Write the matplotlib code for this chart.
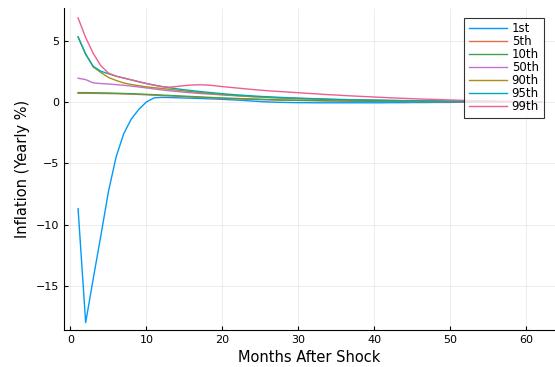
import numpy as np
import matplotlib
matplotlib.use("Agg")
import matplotlib.pyplot as plt

# months after the shock
months = np.arange(1, 63)

# impulse responses by shock percentile (yearly % inflation)
p01 = [-8.7, -18.0, -14.4, -10.9, -7.3, -4.5, -2.6, -1.4, -0.6, 0.0,
       0.33, 0.37, 0.36, 0.34, 0.32, 0.30, 0.28, 0.26, 0.24, 0.21,
       0.18, 0.15, 0.11, 0.07, 0.03, 0.0, -0.02, -0.04, -0.05, -0.06,
       -0.06, -0.07, -0.07, -0.07, -0.07, -0.07, -0.07, -0.07, -0.07, -0.07,
       -0.07, -0.06, -0.06, -0.06, -0.05, -0.05, -0.05, -0.04, -0.04, -0.04,
       -0.03, -0.03, -0.03, -0.02, -0.02, -0.02, -0.01, -0.01, -0.01, 0.0,
       0.0, 0.0]
p05 = [0.70, 0.70, 0.70, 0.69, 0.68, 0.67, 0.65, 0.63, 0.61, 0.58,
       0.55, 0.52, 0.49, 0.46, 0.43, 0.40, 0.37, 0.34, 0.31, 0.29,
       0.27, 0.25, 0.23, 0.21, 0.19, 0.17, 0.16, 0.14, 0.13, 0.12,
       0.11, 0.10, 0.09, 0.08, 0.08, 0.07, 0.06, 0.06, 0.05, 0.05,
       0.04, 0.04, 0.04, 0.03, 0.03, 0.03, 0.02, 0.02, 0.02, 0.02,
       0.01, 0.01, 0.01, 0.01, 0.01, 0.01, 0.0, 0.0, 0.0, 0.0,
       0.0, 0.0]
p10 = [0.76, 0.76, 0.75, 0.74, 0.73, 0.71, 0.69, 0.67, 0.65, 0.62,
       0.59, 0.56, 0.53, 0.50, 0.47, 0.44, 0.41, 0.38, 0.35, 0.32,
       0.30, 0.28, 0.26, 0.24, 0.22, 0.20, 0.18, 0.16, 0.15, 0.14,
       0.13, 0.12, 0.11, 0.10, 0.09, 0.08, 0.07, 0.07, 0.06, 0.06,
       0.05, 0.05, 0.04, 0.04, 0.04, 0.03, 0.03, 0.03, 0.02, 0.02,
       0.02, 0.02, 0.01, 0.01, 0.01, 0.01, 0.01, 0.0, 0.0, 0.0,
       0.0, 0.0]
p50 = [1.93, 1.82, 1.55, 1.50, 1.46, 1.41, 1.36, 1.29, 1.22, 1.14,
       1.06, 0.98, 0.91, 0.85, 0.79, 0.74, 0.69, 0.65, 0.61, 0.57,
       0.53, 0.50, 0.46, 0.43, 0.40, 0.37, 0.34, 0.32, 0.30, 0.28,
       0.26, 0.24, 0.22, 0.20, 0.19, 0.17, 0.16, 0.15, 0.14, 0.13,
       0.12, 0.11, 0.10, 0.09, 0.08, 0.08, 0.07, 0.06, 0.06, 0.05,
       0.05, 0.04, 0.04, 0.03, 0.03, 0.03, 0.02, 0.02, 0.02, 0.01,
       0.01, 0.01]
p90 = [5.3, 3.9, 2.85, 2.4, 2.0, 1.75, 1.55, 1.42, 1.32, 1.23,
       1.16, 1.10, 1.03, 0.96, 0.89, 0.83, 0.77, 0.71, 0.65, 0.60,
       0.55, 0.51, 0.47, 0.43, 0.40, 0.37, 0.34, 0.31, 0.29, 0.27,
       0.25, 0.23, 0.21, 0.19, 0.18, 0.16, 0.15, 0.14, 0.13, 0.12,
       0.11, 0.10, 0.09, 0.08, 0.08, 0.07, 0.06, 0.06, 0.05, 0.05,
       0.04, 0.04, 0.03, 0.03, 0.03, 0.02, 0.02, 0.02, 0.01, 0.01,
       0.01, 0.01]
p95 = [5.3, 3.9, 2.9, 2.5, 2.3, 2.1, 1.95, 1.8, 1.64, 1.5,
       1.37, 1.26, 1.16, 1.07, 0.99, 0.92, 0.85, 0.79, 0.73, 0.67,
       0.62, 0.57, 0.53, 0.49, 0.45, 0.42, 0.39, 0.36, 0.33, 0.31,
       0.29, 0.27, 0.25, 0.23, 0.21, 0.20, 0.18, 0.17, 0.16, 0.15,
       0.14, 0.13, 0.12, 0.11, 0.10, 0.09, 0.08, 0.08, 0.07, 0.06,
       0.06, 0.05, 0.05, 0.04, 0.04, 0.03, 0.03, 0.03, 0.02, 0.02,
       0.02, 0.01]
p99 = [6.85, 5.25, 3.95, 2.95, 2.35, 2.1, 1.95, 1.8, 1.65, 1.5,
       1.37, 1.25, 1.2, 1.26, 1.33, 1.38, 1.40, 1.38, 1.32, 1.25,
       1.19, 1.13, 1.07, 1.01, 0.96, 0.91, 0.87, 0.83, 0.79, 0.75,
       0.71, 0.67, 0.63, 0.59, 0.56, 0.52, 0.49, 0.46, 0.43, 0.40,
       0.37, 0.34, 0.31, 0.29, 0.26, 0.24, 0.22, 0.20, 0.18, 0.16,
       0.14, 0.12, 0.11, 0.09, 0.08, 0.07, 0.05, 0.04, 0.03, 0.02,
       0.01, 0.0]

labels = ["1st", "5th", "10th", "50th", "90th", "95th", "99th"]
series = [p01, p05, p10, p50, p90, p95, p99]
# Julia Plots default palette
colors = ["#009AFA", "#E36F47", "#3EA44E", "#C371D2", "#AC8E18", "#00AAAE", "#ED5E93"]

fig = plt.figure(figsize=(5.55, 3.67), dpi=100)
ax = fig.add_axes([64 / 555, 1 - 330 / 367, 1 - 64 / 555, (330 - 8) / 367])

for lab, vals, col in zip(labels, series, colors):
    ax.plot(months, vals, color=col, linewidth=1.0, label=lab)

ax.set_xlim(-0.85, 63.75)
ax.set_ylim(-18.6, 7.66)
ax.set_xticks([0, 10, 20, 30, 40, 50, 60])
ax.set_yticks([-15, -10, -5, 0, 5])
ax.grid(True, color="black", alpha=0.1, linewidth=0.5)
ax.tick_params(direction="in", length=3, width=0.8, labelsize=8, colors="black")
for side in ["top", "right"]:
    ax.spines[side].set_visible(False)
for side in ["left", "bottom"]:
    ax.spines[side].set_linewidth(0.8)

ax.set_xlabel("Months After Shock", fontsize=10.5)
ax.set_ylabel("Inflation (Yearly %)", fontsize=10.5)

leg = ax.legend(loc="upper right", bbox_to_anchor=(0.977, 0.97), fontsize=8.5,
                frameon=True, fancybox=False, edgecolor="black",
                handlelength=3.2, handletextpad=0.42, labelspacing=0.0,
                borderpad=0.4, borderaxespad=0)
leg.get_frame().set_linewidth(0.8)

fig.savefig("out.png", dpi=100)
